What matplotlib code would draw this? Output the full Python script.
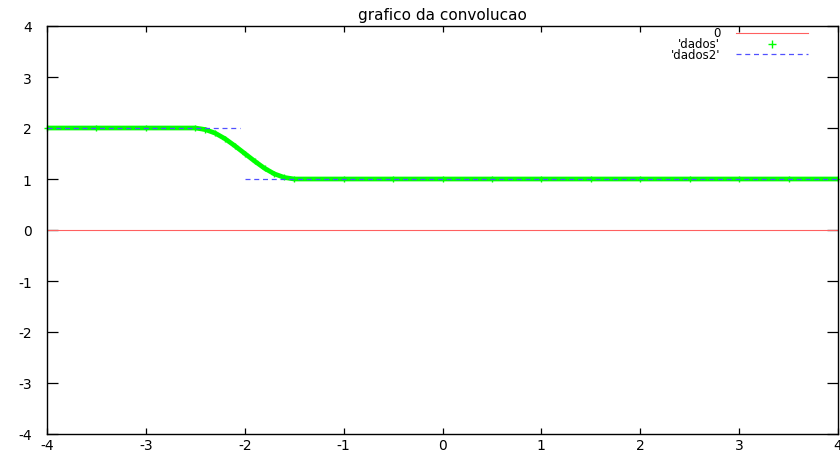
import matplotlib
matplotlib.use("Agg")
import matplotlib.pyplot as plt
import numpy as np

plt.rcParams['font.family'] = ['DejaVu Sans']

# 'dados' - convolution result
dados_x = [-4.0, -3.5, -3.0, -2.5, -2.4, -2.3, -2.2, -2.1, -2.0, -1.9,
           -1.8, -1.7, -1.6, -1.5, -1.0, -0.5, 0.0, 0.5, 1.0, 1.5,
           2.0, 2.5, 3.0, 3.5, 4.0]
dados_y = [2.0, 2.0, 2.0, 2.0, 1.97, 1.9, 1.79, 1.65, 1.5, 1.35,
           1.21, 1.1, 1.03, 1.0, 1.0, 1.0, 1.0, 1.0, 1.0, 1.0,
           1.0, 1.0, 1.0, 1.0, 1.0]

# 'dados2' - the step that was convolved
dados2_x = [-4.0, -2.05, np.nan, -2.0, 4.0]
dados2_y = [2.0, 2.0, np.nan, 1.0, 1.0]

xticks = [-4, -3, -2, -1, 0, 1, 2, 3, 4]
yticks = [-4, -3, -2, -1, 0, 1, 2, 3, 4]
labels = ['0', "'dados'", "'dados2'"]

RED = '#ff6060'
GREEN = '#00ff00'
BLUE = '#5050ff'

fig = plt.figure(figsize=(8.4, 4.52), dpi=100)
ax = fig.add_axes([47 / 840, 17 / 452, 791 / 840, 408 / 452])

ax.plot([-4, 4], [0, 0], color=RED, lw=0.8)
ax.plot(dados_x, dados_y, color=GREEN, lw=3.4, marker='+', ms=5,
        mew=1.0, clip_on=False, solid_capstyle='butt')
ax.plot(dados2_x, dados2_y, color=BLUE, lw=0.9, ls=(0, (4, 3)))

ax.set_xlim(-4, 4)
ax.set_ylim(-4, 4)
ax.set_xticks(xticks)
ax.set_yticks(yticks)
ax.set_xticklabels([str(t) for t in xticks])
ax.set_yticklabels([str(t) for t in yticks])
ax.tick_params(axis='x', direction='in', length=4, width=0.9,
               top=True, bottom=True, pad=3, labelsize=10)
ax.tick_params(axis='y', direction='in', length=8, width=0.9,
               left=True, right=True, pad=11, labelsize=10)
for s in ax.spines.values():
    s.set_linewidth(1.0)
    s.set_color('black')

ax.set_title('grafico da convolucao', fontsize=11, pad=5)

# gnuplot style key: label right-aligned, sample to the right
key_y = [0.983, 0.957, 0.931]
ax.text(0.851, key_y[0], labels[0], transform=ax.transAxes, ha='right',
        va='center', fontsize=8.5)
ax.plot([0.871, 0.962], [key_y[0]] * 2, color=RED, lw=0.8,
        transform=ax.transAxes)
ax.text(0.851, key_y[1], labels[1], transform=ax.transAxes, ha='right',
        va='center', fontsize=8.5)
ax.plot([0.9165], [key_y[1]], color=GREEN, marker='+', ms=6, mew=1.0,
        transform=ax.transAxes)
ax.text(0.851, key_y[2], labels[2], transform=ax.transAxes, ha='right',
        va='center', fontsize=8.5)
ax.plot([0.871, 0.962], [key_y[2]] * 2, color=BLUE, lw=0.9,
        ls=(0, (4, 3)), transform=ax.transAxes)

fig.savefig('out.png', dpi=100)
